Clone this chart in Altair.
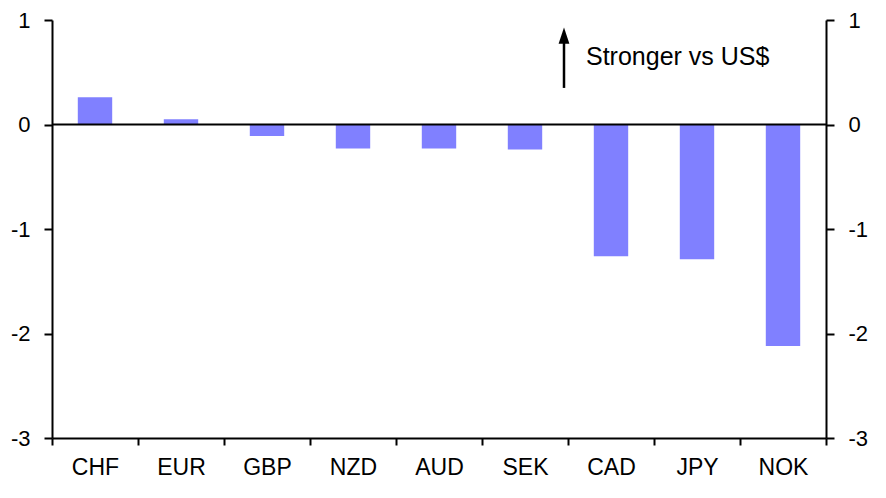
import altair as alt
import pandas as pd

currencies = ["CHF", "EUR", "GBP", "NZD", "AUD", "SEK", "CAD", "JPY", "NOK"]
changes = [0.26, 0.05, -0.11, -0.23, -0.23, -0.24, -1.26, -1.29, -2.12]
y_ticks = [-3, -2, -1, 0, 1]
zero_line = [0]
arrow_from = [0.35]
arrow_to = [0.85]
arrow_head = [0.85]
note_text = ["Stronger vs US$"]
note_y = [0.65]

FONT = "Liberation Sans"
BAR = "#8080FF"

df = pd.DataFrame({"ccy": currencies, "chg": changes})
yscale = alt.Scale(domain=[-3, 1], nice=False, zero=False)

axis_common = dict(
    title=None, values=y_ticks, grid=False, domainColor="black", domainWidth=2,
    tickColor="black", tickWidth=2, tickSize=8, labelFont=FONT, labelFontSize=22,
    labelColor="black", labelPadding=14, labelExpr="'' + datum.value",
)

bars = alt.Chart(df).mark_bar(color=BAR, width=alt.RelativeBandSize(0.4)).encode(
    x=alt.X("ccy:N", sort=currencies,
            scale=alt.Scale(paddingInner=0, paddingOuter=0),
            axis=alt.Axis(title=None, labelAngle=0, tickBand="extent", grid=False,
                          domainColor="black", domainWidth=2, tickColor="black",
                          tickWidth=2, tickSize=7, labelFont=FONT, labelFontSize=23,
                          labelColor="black", labelPadding=11)),
    y=alt.Y("chg:Q", scale=yscale, axis=alt.Axis(orient="left", **axis_common)),
)

zero = alt.Chart(pd.DataFrame({"z": zero_line})).mark_rule(color="black", strokeWidth=2).encode(
    y=alt.Y("z:Q", scale=yscale, axis=alt.Axis(orient="right", **axis_common)),
)

arrow = alt.Chart(pd.DataFrame({"a": arrow_from, "b": arrow_to})).mark_rule(
    color="black", strokeWidth=2.5
).encode(
    x=alt.value(512),
    y=alt.Y("a:Q", scale=yscale, axis=None),
    y2="b:Q",
)

head = alt.Chart(pd.DataFrame({"h": arrow_head})).mark_point(
    shape="M0,-1L0.67,1L-0.67,1Z", filled=True, color="black", opacity=1, size=260
).encode(
    x=alt.value(512),
    y=alt.Y("h:Q", scale=yscale, axis=None),
)

note = alt.Chart(pd.DataFrame({"t": note_text, "y": note_y})).mark_text(
    font=FONT, fontSize=25, align="left", baseline="middle", color="black"
).encode(
    x=alt.value(534),
    y=alt.Y("y:Q", scale=yscale, axis=None),
    text="t:N",
)

chart = alt.layer(bars, zero, arrow, head, note).resolve_scale(y="independent").properties(
    width=774, height=418,
    autosize=alt.AutoSizeParams(type="none"),
    padding={"left": 44, "top": 12, "right": 52, "bottom": 52},
    background="white",
).configure_view(stroke=None)

chart.save("out.html", embed_options={"renderer": "svg", "actions": False})
